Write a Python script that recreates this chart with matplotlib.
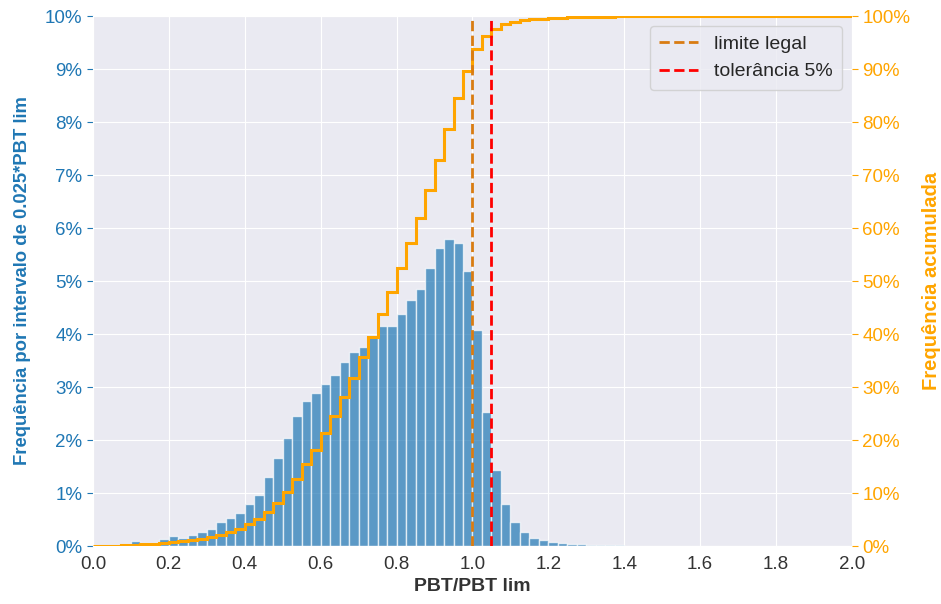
import matplotlib.pyplot as plt
import matplotlib.ticker as mtick
import numpy as np
import seaborn as sns

# Dados (classes de 0.025*PBT lim, de 0 a 2.0)
largura = 0.025
bordas = np.arange(0, 2.0 + largura / 2, largura)

freq = [0.005, 0.005, 0.005, 0.02, 0.10, 0.05, 0.06, 0.13, 0.18, 0.16,
        0.20, 0.27, 0.32, 0.45, 0.52, 0.63, 0.80, 0.96, 1.31, 1.67,
        2.04, 2.46, 2.73, 2.88, 3.05, 3.22, 3.48, 3.66, 3.75, 3.95,
        4.16, 4.16, 4.37, 4.64, 4.85, 5.24, 5.62, 5.80, 5.72, 5.18,
        4.07, 2.53, 1.43, 0.79, 0.45, 0.26, 0.16, 0.12, 0.08, 0.06,
        0.04, 0.03, 0.02, 0.015, 0.012, 0.01, 0.008, 0.007, 0.006, 0.005,
        0.004, 0.004, 0.003, 0.003, 0.003, 0.002, 0.002, 0.002, 0.002, 0.002,
        0.001, 0.001, 0.001, 0.001, 0.001, 0.001, 0.001, 0.001, 0.001, 0.001]

acum = [0.0, 0.0, 0.05, 0.1, 0.2, 0.3, 0.35, 0.55, 0.75, 0.95,
        1.15, 1.4, 1.75, 2.1, 2.6, 3.3, 4.1, 5.1, 6.4, 8.1,
        10.1, 12.7, 15.4, 18.2, 21.3, 24.5, 28.1, 31.7, 35.6, 39.5,
        43.7, 48.0, 52.4, 57.1, 61.9, 67.2, 72.8, 78.7, 84.5, 89.6,
        93.7, 96.3, 97.6, 98.4, 98.9, 99.2, 99.4, 99.5, 99.6, 99.68,
        99.74, 99.79, 99.83, 99.86, 99.89, 99.91, 99.93, 99.95, 99.96, 99.97,
        99.98, 99.98, 99.99, 99.99, 100, 100, 100, 100, 100, 100,
        100, 100, 100, 100, 100, 100, 100, 100, 100, 100]

limite_legal = 1.0
tolerancia = 1.05

sns.set_style('darkgrid')
plt.rcParams['font.family'] = ['Liberation Sans', 'DejaVu Sans']

azul = '#1f77b4'
laranja = 'orange'

fig = plt.figure(figsize=(9.41, 6.04), dpi=100)
ax = fig.add_axes([0.0988, 0.096, 0.8066, 0.8775])

ax.bar(bordas[:-1], freq, width=largura, align='edge', color=azul,
       alpha=0.7, edgecolor='white', linewidth=1)
ax.set_xlim(0, 2.0)
ax.set_ylim(0, 10)
ax.set_xticks(np.arange(0, 2.01, 0.2))
ax.set_yticks(np.arange(0, 10.1, 1))
ax.yaxis.set_major_formatter(mtick.PercentFormatter(decimals=0))
ax.tick_params(axis='y', colors=azul, left=True, length=4, labelsize=13.5)
ax.tick_params(axis='x', labelsize=13.5, colors='#333333')
ax.set_xlabel('PBT/PBT lim', fontsize=14, fontweight='bold', color='#333333')
ax.set_ylabel('Frequência por intervalo de 0.025*PBT lim', fontsize=13.3,
              fontweight='bold', color=azul, labelpad=10)

ax2 = ax.twinx()
ax2.stairs(acum, bordas, baseline=None, color=laranja, linewidth=2.2)
ax2.set_ylim(0, 100)
ax2.set_yticks(np.arange(0, 101, 10))
ax2.yaxis.set_major_formatter(mtick.PercentFormatter(decimals=0))
ax2.grid(False)
ax2.tick_params(axis='y', colors=laranja, right=True, length=4, labelsize=13.5)
ax2.set_ylabel('Frequência acumulada', fontsize=14.5, fontweight='bold',
               color=laranja, labelpad=8)

ax2.axvline(limite_legal, color='#d97c12', linestyle='--', linewidth=2,
            label='limite legal')
ax2.axvline(tolerancia, color='red', linestyle='--', linewidth=2,
            label='tolerância 5%')
ax2.legend(loc='upper right', fontsize=14, borderpad=0.5)

for s in ax2.spines.values():
    s.set_visible(False)

fig.savefig('out.png', dpi=100)
